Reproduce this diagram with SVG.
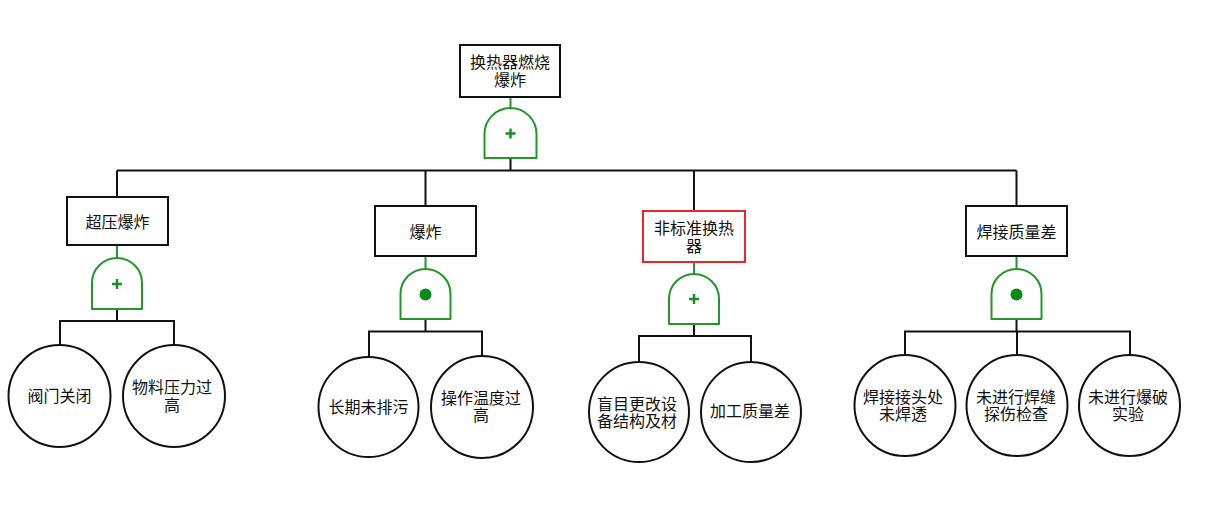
<svg xmlns="http://www.w3.org/2000/svg" width="1205" height="519" viewBox="0 0 1205 519">
<style>
.box{fill:#fff;stroke:#111;stroke-width:2}
.red{stroke:#e8262b}
.gate{fill:#fff;stroke:#23962b;stroke-width:2;stroke-linejoin:round}
.gs{stroke:#23962b;stroke-width:2;fill:none}
.plus{stroke:#149123;stroke-width:2.5;fill:none}
.dot{fill:#078a17}
.ev{fill:#fff;stroke:#111;stroke-width:2}
.ln{stroke:#111;stroke-width:2;fill:none}
text{font-family:"Noto Sans CJK SC","Noto Sans",sans-serif;font-size:16px;fill:#111;text-anchor:middle;dominant-baseline:central}
</style>
<rect width="1205" height="519" fill="#fff"/>
<g id="connectors">
<path class="ln" d="M510.5,158 V170.5 M117,170.5 H1016.5 M117,170.5 V197 M425.5,170.5 V206 M694,170.5 V211 M1016.5,170.5 V206"/>
<path class="ln" d="M117,309 V321 M60,346 V321 H174 V346"/>
<path class="ln" d="M425.5,319 V331.5 M369,357 V331.5 H482 V357"/>
<path class="ln" d="M694,324 V336 M639,362 V336 H751 V362"/>
<path class="ln" d="M1016.5,319 V331.5 M905,355 V331.5 H1130 V355 M1017,331.5 V355"/>
<path class="gs" d="M510.5,97 V108 M117,245 V258 M425.5,256 V269 M694,262 V274 M1016.5,256 V269"/>
</g>
<g id="top">
<rect class="box" x="460" y="45" width="100" height="52"/>
<text x="510" y="61">换热器燃烧</text>
<text x="510" y="78.5">爆炸</text>
</g>
<g id="gate-top">
<path class="gate" d="M484.5,158 V134 A26,26 0 0 1 536.5,134 V158 Z"/>
<path class="plus" d="M505.5,133.5 H515.5 M510.5,128.5 V138.5"/>
</g>
<g id="n1">
<rect class="box" x="67" y="197" width="101" height="48"/>
<text x="117.5" y="221">超压爆炸</text>
</g>
<g id="gate-n1">
<path class="gate" d="M92,309 V283 A25,25 0 0 1 142,283 V309 Z"/>
<path class="plus" d="M112,284 H122 M117,279 V289"/>
</g>
<g id="n2">
<rect class="box" x="375" y="206" width="101" height="50"/>
<text x="425.5" y="231">爆炸</text>
</g>
<g id="gate-n2">
<path class="gate" d="M400.5,319 V294 A25,25 0 0 1 450.5,294 V319 Z"/>
<circle class="dot" cx="425.5" cy="294.5" r="6"/>
</g>
<g id="n3">
<rect class="box red" x="643" y="211" width="102" height="51"/>
<text x="694" y="227">非标准换热</text>
<text x="694" y="244.5">器</text>
</g>
<g id="gate-n3">
<path class="gate" d="M669,324 V299 A25,25 0 0 1 719,299 V324 Z"/>
<path class="plus" d="M689,299 H699 M694,294 V304"/>
</g>
<g id="n4">
<rect class="box" x="966" y="206" width="101" height="50"/>
<text x="1016.5" y="231">焊接质量差</text>
</g>
<g id="gate-n4">
<path class="gate" d="M991.5,319 V294 A25,25 0 0 1 1041.5,294 V319 Z"/>
<circle class="dot" cx="1016.5" cy="294.5" r="6"/>
</g>
<g id="e1"><circle class="ev" cx="59.5" cy="396" r="51"/><text x="59.5" y="395">阀门关闭</text></g>
<g id="e2"><circle class="ev" cx="174" cy="396" r="51"/><text x="172" y="386">物料压力过</text><text x="172" y="403.5">高</text></g>
<g id="e3"><circle class="ev" cx="368.5" cy="407" r="50"/><text x="368.5" y="406">长期未排污</text></g>
<g id="e4"><circle class="ev" cx="482" cy="407" r="51"/><text x="481" y="396.5">操作温度过</text><text x="481" y="413.5">高</text></g>
<g id="e5"><circle class="ev" cx="639" cy="412" r="50"/><text x="637" y="403">盲目更改设</text><text x="637" y="420">备结构及材</text></g>
<g id="e6"><circle class="ev" cx="751" cy="412" r="50"/><text x="750" y="409.5">加工质量差</text></g>
<g id="e7"><circle class="ev" cx="905" cy="405.5" r="50.5"/><text x="903" y="396">焊接接头处</text><text x="903" y="413">未焊透</text></g>
<g id="e8"><circle class="ev" cx="1017" cy="405.5" r="50.5"/><text x="1016" y="396">未进行焊缝</text><text x="1016" y="413">探伤检查</text></g>
<g id="e9"><circle class="ev" cx="1129.5" cy="405.5" r="50.5"/><text x="1128" y="396">未进行爆破</text><text x="1128" y="413">实验</text></g>
</svg>
